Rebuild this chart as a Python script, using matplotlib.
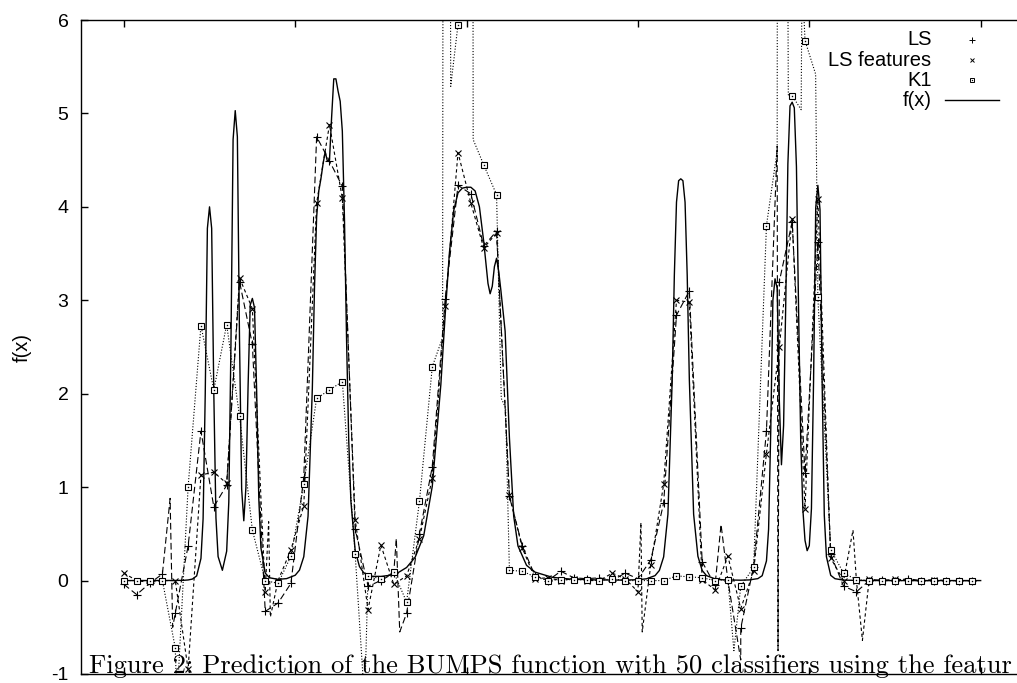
import matplotlib
matplotlib.use("Agg")
import matplotlib.pyplot as plt

plt.rcParams["axes.unicode_minus"] = False

# ---------------- data ----------------
# grid where the classifier predictions are marked
X_GRID = [0.000, 0.015, 0.030, 0.045, 0.060, 0.075, 0.090, 0.105, 0.120, 0.135,
          0.150, 0.165, 0.180, 0.195, 0.210, 0.225, 0.240, 0.255, 0.270, 0.285,
          0.300, 0.315, 0.330, 0.345, 0.360, 0.375, 0.390, 0.405, 0.420, 0.435,
          0.450, 0.465, 0.480, 0.495, 0.510, 0.525, 0.540, 0.555, 0.570, 0.585,
          0.600, 0.615, 0.630, 0.645, 0.660, 0.675, 0.690, 0.705, 0.720, 0.735,
          0.750, 0.765, 0.780, 0.795, 0.810, 0.825, 0.840, 0.855, 0.870, 0.885,
          0.900, 0.915, 0.930, 0.945, 0.960, 0.975, 0.990]

LS_Y = [-0.04, -0.15, -0.03, 0.07, -0.35, 0.37, 1.60, 0.79, 1.02, 3.20,
        2.53, -0.33, -0.24, -0.03, 1.11, 4.75, 4.49, 4.22, 0.55, -0.06,
        0.00, 0.08, -0.35, 0.50, 1.22, 3.01, 4.23, 4.14, 3.58, 3.74,
        0.90, 0.37, 0.05, 0.00, 0.10, 0.03, 0.02, 0.03, 0.00, 0.08,
        0.02, 0.22, 0.83, 2.84, 3.10, 0.20, -0.05, 0.00, -0.51, 0.15,
        1.60, 3.20, 3.84, 1.15, 3.62, 0.28, -0.06, -0.12, 0.00, 0.01,
        0.00, 0.02, 0.00, 0.00, 0.00, 0.00, 0.00]

LSF_Y = [0.08, 0.00, -0.02, 0.00, 0.00, -0.95, 1.13, 1.16, 1.04, 3.24,
         2.91, -0.12, 0.00, 0.33, 0.80, 4.04, 4.88, 4.09, 0.65, -0.31,
         0.38, -0.04, 0.05, 0.45, 1.10, 2.94, 4.58, 4.04, 3.56, 3.72,
         0.92, 0.35, 0.02, 0.03, 0.00, 0.02, 0.00, 0.00, 0.08, 0.02,
         -0.12, 0.17, 1.03, 3.00, 2.98, 0.01, -0.10, 0.26, -0.30, 0.10,
         1.36, 2.50, 3.87, 0.77, 4.08, 0.24, 0.00, 0.00, 0.02, -0.01,
         0.02, 0.00, 0.00, 0.01, 0.00, 0.00, 0.00]

K1_Y = [0.00, 0.00, 0.00, 0.00, -0.72, 1.00, 2.73, 2.04, 2.74, 1.76,
        0.54, 0.00, -0.03, 0.26, 1.03, 1.95, 2.04, 2.13, 0.28, 0.05,
        0.02, 0.09, -0.23, 0.85, 2.29, 30.0, 5.95, 30.0, 4.45, 4.13,
        0.11, 0.10, 0.04, 0.00, 0.01, 0.01, 0.01, 0.00, 0.02, 0.00,
        0.00, 0.00, 0.00, 0.05, 0.04, 0.03, 0.00, 0.01, -0.06, 0.14,
        3.80, 30.0, 5.19, 5.78, 3.03, 0.33, 0.08, 0.01, 0.00, 0.00,
        0.00, 0.00, 0.00, 0.00, 0.00, 0.00, 0.00]

# additional vertices of the connecting lines (between marked points)
LS_EXTRA_X = [0.054, 0.057, 0.318, 0.322, 0.697, 0.720, 0.7625, 0.7635]
LS_EXTRA_Y = [0.88, -0.50, 0.45, -0.55, 0.60, -0.85, 4.65, -0.75]
LSF_EXTRA_X = [0.169, 0.171, 0.6035, 0.605, 0.851, 0.862]
LSF_EXTRA_Y = [0.63, -0.39, 0.62, -0.55, 0.54, -0.64]
K1_EXTRA_X = [0.062, 0.281, 0.372, 0.3815, 0.4077, 0.4405, 0.4455, 0.712,
              0.7625, 0.7755, 0.7905, 0.7915, 0.8074]
K1_EXTRA_Y = [-1.30, -1.30, 2.60, 5.29, 4.72, 1.95, 1.85, -0.75,
              4.60, 5.20, 5.04, 6.50, 5.42]

# true function f(x)
FX = [0.0, 0.02, 0.04, 0.05, 0.06, 0.07, 0.075, 0.08, 0.085, 0.09, 0.0925, 0.095,
      0.0975, 0.1, 0.1025, 0.105, 0.1075, 0.11, 0.115, 0.12, 0.1225, 0.125, 0.1275,
      0.13, 0.1325, 0.135, 0.1375, 0.14, 0.1425, 0.145, 0.1475, 0.15, 0.1525, 0.155,
      0.1575, 0.16, 0.165, 0.17, 0.18, 0.19, 0.2, 0.205, 0.21, 0.215, 0.22, 0.2225,
      0.225, 0.2275, 0.23, 0.2325, 0.235, 0.2375, 0.24, 0.2425, 0.245, 0.2475, 0.25,
      0.2525, 0.255, 0.2575, 0.26, 0.2625, 0.265, 0.27, 0.275, 0.28, 0.29, 0.3, 0.31,
      0.32, 0.33, 0.34, 0.35, 0.36, 0.37, 0.375, 0.38, 0.385, 0.39, 0.395, 0.4, 0.405,
      0.41, 0.415, 0.42, 0.425, 0.4275, 0.43, 0.4325, 0.435, 0.4375, 0.44, 0.445, 0.45,
      0.455, 0.46, 0.47, 0.48, 0.5, 0.52, 0.55, 0.58, 0.6, 0.61, 0.62, 0.625, 0.63,
      0.635, 0.64, 0.6425, 0.645, 0.6475, 0.65, 0.6525, 0.655, 0.6575, 0.66, 0.665,
      0.67, 0.675, 0.68, 0.69, 0.7, 0.72, 0.73, 0.74, 0.745, 0.75, 0.7525, 0.755,
      0.7575, 0.76, 0.7625, 0.765, 0.7675, 0.77, 0.7725, 0.775, 0.7775, 0.78, 0.7825,
      0.785, 0.7875, 0.79, 0.7925, 0.795, 0.7975, 0.8, 0.8025, 0.805, 0.8075, 0.81,
      0.8125, 0.815, 0.8175, 0.82, 0.825, 0.83, 0.84, 0.86, 0.9, 0.95, 1.0]
FY = [0.0, 0.0, 0.0002, 0.0004, 0.001, 0.003, 0.0065, 0.016, 0.05, 0.237, 0.66, 2.0,
      3.77, 4.0, 3.77, 2.01, 0.67, 0.257, 0.11, 0.314, 0.84, 2.52, 4.72,
      5.03, 4.75, 2.58, 0.98, 0.64, 1.0, 2.08, 2.95, 3.02, 2.92, 2.03,
      0.88, 0.35, 0.08, 0.03, 0.013, 0.021, 0.057, 0.112, 0.255, 0.69, 2.06, 3.13,
      3.89, 4.17, 4.30, 4.46, 4.59, 4.49, 4.50, 4.96, 5.37, 5.37, 5.24,
      5.13, 4.81, 3.87, 2.55, 1.49, 0.85, 0.32, 0.15, 0.083, 0.046, 0.044, 0.056,
      0.084, 0.14, 0.25, 0.48, 1.01, 2.10, 2.84, 3.51, 3.96, 4.15, 4.20, 4.21, 4.21,
      4.17, 4.0, 3.63, 3.18, 3.07, 3.15, 3.36, 3.45, 3.31, 3.11, 2.67, 1.53,
      0.69, 0.37, 0.163, 0.09, 0.035, 0.017, 0.007, 0.005, 0.009, 0.019, 0.053, 0.108, 0.253,
      0.71, 2.15, 3.27, 4.05, 4.28, 4.30, 4.28, 4.05, 3.27, 2.15, 0.71,
      0.26, 0.108, 0.053, 0.018, 0.0074, 0.004, 0.007, 0.021, 0.052, 0.21, 0.55, 1.60,
      3.0, 3.23, 3.13, 1.93, 1.24, 1.66, 2.96, 4.46, 5.08, 5.12, 5.06,
      4.43, 2.89, 1.50, 0.76, 0.43, 0.32, 0.374, 0.77, 2.15, 3.99, 4.23,
      3.97, 2.11, 0.70, 0.255, 0.056, 0.02, 0.005, 0.001, 0.0, 0.0, 0.0]

X_TICKS = [0.0, 0.2, 0.4, 0.6, 0.8, 1.0]
Y_TICKS = [-1, 0, 1, 2, 3, 4, 5, 6]
LEGEND_LABELS = ["LS", "LS features", "K1", "f(x)"]
CAPTION = "Figure 2: Prediction of the BUMPS function with 50 classifiers using the featur"


def merged(xs, ys, ex, ey):
    pts = sorted(list(zip(xs, ys)) + list(zip(ex, ey)))
    return [p[0] for p in pts], [p[1] for p in pts]


# ---------------- figure ----------------
W, H = 1017, 683
fig = plt.figure(figsize=(W / 100, H / 100), dpi=100)


def fxp(px):
    return px / W


def fyp(py):
    return 1 - py / H


ax = fig.add_axes([fxp(81), fyp(674), fxp(1023.5) - fxp(81), fyp(20) - fyp(674)])
ax.set_xlim(-0.05, 1.05)
ax.set_ylim(-1, 6)

lw = 0.8
# connecting lines
lx, ly = merged(X_GRID, LS_Y, LS_EXTRA_X, LS_EXTRA_Y)
ax.plot(lx, ly, color="black", lw=lw, linestyle=(0, (6, 3)))
lx, ly = merged(X_GRID, LSF_Y, LSF_EXTRA_X, LSF_EXTRA_Y)
ax.plot(lx, ly, color="black", lw=lw, linestyle=(0, (3, 2.5)))
lx, ly = merged(X_GRID, K1_Y, K1_EXTRA_X, K1_EXTRA_Y)
ax.plot(lx, ly, color="black", lw=lw, linestyle=(0, (1, 1.6)))

# f(x)
ax.plot(FX, FY, color="black", lw=1.0, solid_joinstyle="round")

# markers
ax.plot(X_GRID, LS_Y, linestyle="none", marker="+", ms=5.5, mew=0.8, color="black")
ax.plot(X_GRID, LSF_Y, linestyle="none", marker="x", ms=4.5, mew=0.8, color="black")
ax.plot(X_GRID, K1_Y, linestyle="none", marker="s", ms=4.5, mew=0.8,
        mfc="white", mec="black")
ax.plot(X_GRID, K1_Y, linestyle="none", marker="s", ms=1.0, mew=0.0, color="black")

ax.set_xticks(X_TICKS)
ax.set_yticks(Y_TICKS)
ax.set_xticklabels([])
ax.set_yticklabels([str(v) for v in Y_TICKS], family="Liberation Sans", fontsize=14)
ax.tick_params(direction="in", length=5, width=1.0, top=True, right=True,
               pad=9, color="black")
for s in ax.spines.values():
    s.set_linewidth(1.0)

fig.text(fxp(22), fyp(347), "f(x)", rotation=90, ha="center", va="center",
         family="Liberation Sans", fontsize=14.5)

# legend (gnuplot style: right aligned text, sample to the right)
rows = [39.5, 60, 80, 100]
for lab, ry in zip(LEGEND_LABELS, rows):
    fig.text(fxp(931.5), fyp(ry), lab, ha="right", va="center",
             family="Liberation Sans", fontsize=14.5)
fig.add_artist(plt.Line2D([fxp(971.7)], [fyp(rows[0])], marker="+", ms=4, mew=0.7,
                          color="black", transform=fig.transFigure))
fig.add_artist(plt.Line2D([fxp(971.7)], [fyp(rows[1])], marker="x", ms=3.5, mew=0.7,
                          color="black", transform=fig.transFigure))
fig.add_artist(plt.Line2D([fxp(971.7)], [fyp(rows[2])], marker="s", ms=3.5, mew=0.7,
                          mfc="white", mec="black", transform=fig.transFigure))
fig.add_artist(plt.Line2D([fxp(971.7)], [fyp(rows[2])], marker="s", ms=0.9, mew=0,
                          color="black", transform=fig.transFigure))
fig.add_artist(plt.Line2D([fxp(945), fxp(999)], [fyp(rows[3]), fyp(rows[3])],
                          color="black", lw=1.0, transform=fig.transFigure))

# caption overlapping the bottom of the plot
cap = fig.text(fxp(89), fyp(673), CAPTION, ha="left", va="baseline",
               family="cmr10", fontsize=17.5)
fig.canvas.draw()
bb = cap.get_window_extent(renderer=fig.canvas.get_renderer())
target = 1013 - 89
cap.set_fontsize(17.5 * target / bb.width)

fig.savefig("out.png", dpi=100)
